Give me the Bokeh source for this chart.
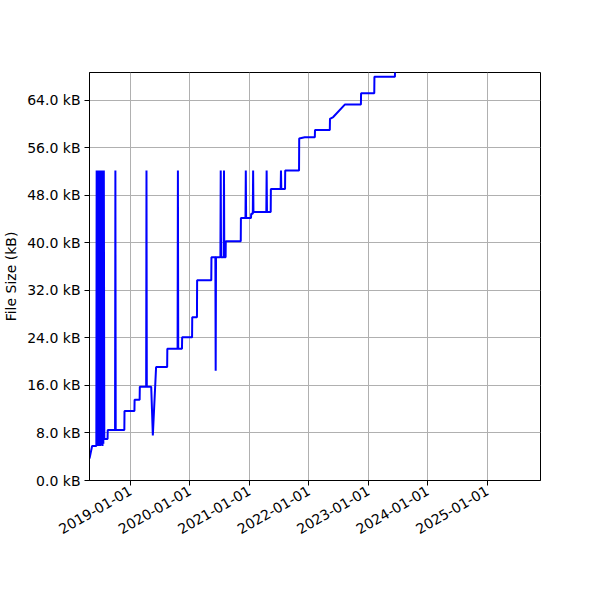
import math
import numpy as np
import pandas as pd
from bokeh.plotting import figure
from bokeh.models import FixedTicker, DatetimeTickFormatter, CustomJSTickFormatter, Range1d
from bokeh.embed import file_html
from bokeh.resources import INLINE

# commit dates and file size (kB)
dates = [
    "2018-04-24", "2018-05-10", "2018-06-05", "2018-06-07", "2018-06-09", "2018-06-12",
    "2018-06-14", "2018-06-17", "2018-06-19", "2018-06-21", "2018-06-23", "2018-06-26",
    "2018-06-28", "2018-07-01", "2018-07-03", "2018-07-05", "2018-07-08", "2018-07-11",
    "2018-07-13", "2018-07-16", "2018-07-18", "2018-07-21", "2018-07-24", "2018-08-13",
    "2018-08-14", "2018-09-28", "2018-09-30", "2018-10-02", "2018-11-24", "2018-11-25",
    "2019-01-25", "2019-01-26", "2019-02-26", "2019-02-27", "2019-04-07", "2019-04-09",
    "2019-04-11", "2019-05-08", "2019-05-18", "2019-06-07", "2019-08-14", "2019-08-15",
    "2019-10-17", "2019-10-19", "2019-10-21", "2019-11-13", "2019-11-14", "2020-01-14",
    "2020-01-15", "2020-02-13", "2020-02-14", "2020-05-11", "2020-05-12", "2020-06-05",
    "2020-06-07", "2020-06-09", "2020-07-06", "2020-07-08", "2020-07-10", "2020-07-26",
    "2020-07-28", "2020-07-30", "2020-08-07", "2020-08-08", "2020-11-08", "2020-11-09",
    "2020-12-07", "2020-12-09", "2020-12-11", "2021-01-10", "2021-01-11", "2021-01-21",
    "2021-01-23", "2021-01-25", "2021-04-14", "2021-04-16", "2021-04-18", "2021-05-11",
    "2021-05-12", "2021-07-11", "2021-07-13", "2021-07-15", "2021-08-07", "2021-08-08",
    "2021-11-01", "2021-11-02", "2021-12-06", "2022-02-06", "2022-02-07", "2022-05-09",
    "2022-05-10", "2022-05-30", "2022-08-09", "2022-11-16", "2022-11-17", "2023-02-06",
    "2023-02-07", "2023-06-13", "2023-06-14",
]
size_kb = [
    3.7, 5.8, 5.8, 52.2, 5.8, 52.2,
    6.0, 52.2, 5.8, 52.2, 6.1, 52.2,
    5.8, 52.2, 5.9, 52.2, 6.0, 52.2,
    5.8, 52.2, 6.2, 52.2, 7.0, 7.0,
    8.5, 8.5, 52.2, 8.5, 8.5, 11.7,
    11.7, 13.6, 13.6, 15.8, 15.8, 52.2,
    15.8, 15.8, 7.6, 19.1, 19.1, 22.2,
    22.2, 52.2, 22.2, 22.2, 24.1, 24.1,
    27.5, 27.5, 33.7, 33.7, 37.6, 37.6,
    18.5, 37.6, 37.6, 52.2, 37.6, 37.6,
    52.2, 37.6, 37.6, 40.3, 40.3, 44.2,
    44.2, 52.2, 44.2, 44.2, 44.9, 44.9,
    52.2, 45.2, 45.2, 52.2, 45.2, 45.2,
    49.1, 49.1, 52.2, 49.1, 49.1, 52.2,
    52.2, 57.6, 57.8, 57.8, 59.0, 59.0,
    60.9, 61.2, 63.3, 63.3, 65.2, 65.2,
    68.0, 68.0, 70.5,
]
year_ticks = ["2019-01-01", "2020-01-01", "2021-01-01", "2022-01-01",
              "2023-01-01", "2024-01-01", "2025-01-01"]
y_ticks = [0, 8, 16, 24, 32, 40, 48, 56, 64]

x = pd.to_datetime(dates)

def ms(s):
    return pd.Timestamp(s).timestamp() * 1000

p = figure(width=584, height=584, x_axis_type="datetime",
           output_backend="svg", toolbar_location=None,
           min_border_left=82, min_border_top=72,
           min_border_right=44, min_border_bottom=104)
p.x_range = Range1d(ms("2018-04-24"), ms("2025-11-23"))
p.y_range = Range1d(0, 68.7)

p.line(x, size_kb, line_color="#0000ff", line_width=2)

p.xaxis.ticker = FixedTicker(ticks=[ms(t) for t in year_ticks])
fmt = "%Y-%m-%d"
p.xaxis.formatter = DatetimeTickFormatter(years=fmt, months=fmt, days=fmt, hours=fmt)
p.xaxis.major_label_orientation = math.pi / 6

p.yaxis.ticker = FixedTicker(ticks=y_ticks)
p.yaxis.formatter = CustomJSTickFormatter(code='return tick.toFixed(1) + " kB";')
p.yaxis.axis_label = "File Size (kB)"
p.yaxis.axis_label_text_font_style = "normal"
p.yaxis.axis_label_text_font = "DejaVu Sans"
p.yaxis.axis_label_text_font_size = "14px"
p.yaxis.axis_label_text_color = "black"
p.yaxis.axis_label_standoff = 5

for ax in (p.xaxis, p.yaxis):
    ax.major_label_text_font = "DejaVu Sans"
    ax.major_label_text_font_size = "14px"
    ax.major_label_text_color = "black"
    ax.major_label_standoff = 4
    ax.axis_line_color = "black"
    ax.major_tick_line_color = "black"
    ax.major_tick_out = 5
    ax.major_tick_in = 0
    ax.minor_tick_line_color = None

p.grid.grid_line_color = "#b0b0b0"
p.grid.grid_line_width = 1
p.outline_line_color = "black"
p.outline_line_width = 1
p.outline_line_alpha = 1

open("out.html", "w").write(file_html(p, INLINE))
